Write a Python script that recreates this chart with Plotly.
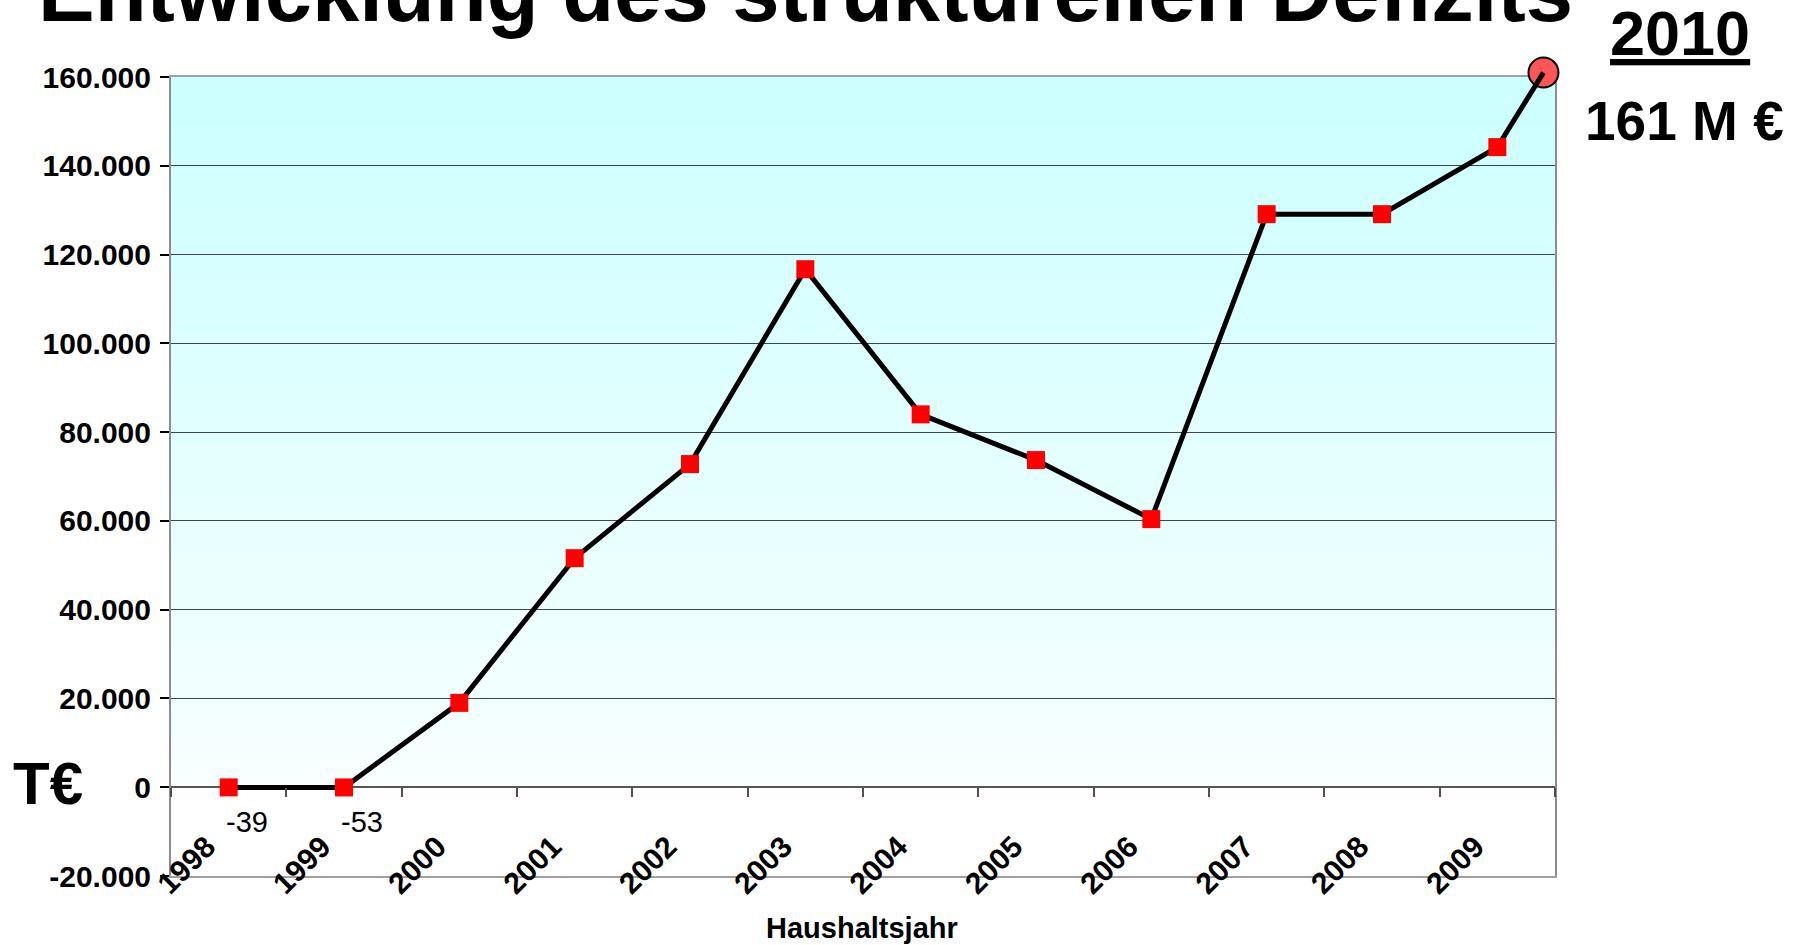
import base64
import struct
import zlib

import plotly.graph_objects as go

# ---------------- data ----------------
years = ["1998", "1999", "2000", "2001", "2002", "2003", "2004", "2005",
         "2006", "2007", "2008", "2009"]
deficit_teur = [-39, -53, 19000, 51600, 72800, 116700, 84000, 73700,
                60400, 129100, 129100, 144200]
labelled_years = ["1998", "1999"]          # points that carry a data label

final_year = "2010"
final_value_teur = 161000
final_label = "161 M €"
final_x_pos = 11.4                          # drawn just right of 2009

y_ticks = [-20000, 0, 20000, 40000, 60000, 80000, 100000, 120000, 140000, 160000]
y_tick_text = [f"{v:,}".replace(",", ".") for v in y_ticks]

title_text = "Entwicklung des strukturellen Defizits"
unit_text = "T€"
x_title = "Haushaltsjahr"

# ---------------- geometry ----------------
W, H = 1807, 945
L, R, B = 171, 1555, 876
PLOT_TOP = 77            # top edge of the framed plot area
PAPER_TOP = 40           # paper extends above the frame (room for 2010 circle)
PW, PH = R - L, B - PAPER_TOP
dom_top = (B - PLOT_TOP) / (B - PAPER_TOP)


def px2x(px):
    return (px - L) / PW


def py2y(py):
    return (B - py) / PH


x_idx = list(range(len(years)))
y_min, y_max = y_ticks[0], y_ticks[-1]
x_range = [-0.5, len(years) - 0.5]
# data axis spans the whole paper with the same scale as the framed axis
y_data_range = [y_min, y_min + (y_max - y_min) / dom_top]
FONT = "Liberation Sans"


def gradient_png(top, bottom, n=96):
    rows = b""
    for i in range(n):
        t = i / (n - 1)
        c = [round(top[k] + (bottom[k] - top[k]) * t) for k in range(3)]
        rows += b"\x00" + bytes(c) + bytes(c)

    def chunk(tag, data):
        return (struct.pack(">I", len(data)) + tag + data
                + struct.pack(">I", zlib.crc32(tag + data) & 0xFFFFFFFF))

    ihdr = struct.pack(">IIBBBBB", 2, n, 8, 2, 0, 0, 0)
    png = (b"\x89PNG\r\n\x1a\n" + chunk(b"IHDR", ihdr)
           + chunk(b"IDAT", zlib.compress(rows)) + chunk(b"IEND", b""))
    return "data:image/png;base64," + base64.b64encode(png).decode()


fig = go.Figure()

# 2010 circle (below the line)
fig.add_trace(go.Scatter(
    x=[final_x_pos], y=[final_value_teur], mode="markers",
    xaxis="x2", yaxis="y2",
    marker=dict(symbol="circle", size=30, color="#FF5555",
                line=dict(color="black", width=2)),
    cliponaxis=False, showlegend=False, hoverinfo="skip"))

# black line incl. 2010
fig.add_trace(go.Scatter(
    x=x_idx + [final_x_pos], y=deficit_teur + [final_value_teur], mode="lines",
    xaxis="x2", yaxis="y2",
    line=dict(color="black", width=5),
    cliponaxis=False, showlegend=False, hoverinfo="skip"))

# red square markers
fig.add_trace(go.Scatter(
    x=x_idx, y=deficit_teur, mode="markers",
    xaxis="x2", yaxis="y2",
    marker=dict(symbol="square", size=18, color="#FF0000"),
    cliponaxis=False, showlegend=False))

# dummy trace so the framed subplot (grid, labels, background) exists
fig.add_trace(go.Scatter(x=[None], y=[None], xaxis="x", yaxis="y",
                         showlegend=False, hoverinfo="skip"))

boundaries = [i - 0.5 for i in range(len(years) + 1)]

fig.update_layout(
    width=W, height=H,
    margin=dict(l=L, r=W - R, t=PAPER_TOP, b=H - B, autoexpand=False),
    paper_bgcolor="white", plot_bgcolor="rgba(0,0,0,0)",
    font=dict(family=FONT, color="black"),
    xaxis=dict(
        range=x_range, tickvals=x_idx, ticktext=years,
        tickangle=-45, ticks="", showgrid=False, zeroline=False,
        showline=True, linecolor="#A0A0A0", linewidth=2, mirror=True,
        tickfont=dict(family=FONT, size=30, weight="bold", color="black"),
        ticklabelstandoff=-61, ticklabelshift=-22,
    ),
    yaxis=dict(
        domain=[0, dom_top],
        range=[y_min, y_max], tickvals=y_ticks, ticktext=y_tick_text,
        ticks="outside", ticklen=9, tickwidth=1.5, tickcolor="black",
        showgrid=True, gridcolor="#3C4848", gridwidth=1,
        zeroline=True, zerolinecolor="#555555", zerolinewidth=2,
        showline=True, linecolor="#8C8C8C", linewidth=2, mirror=True,
        tickfont=dict(family=FONT, size=30, weight="bold", color="black"),
        ticklabelstandoff=3,
    ),
    # data axes: same scale; x2 draws the tick marks on the zero line
    xaxis2=dict(
        range=x_range, anchor="free",
        position=dom_top * (0 - y_min) / (y_max - y_min), side="bottom",
        tickvals=boundaries, ticks="outside", ticklen=9, tickwidth=2,
        tickcolor="#505050", showticklabels=False, showgrid=False,
        zeroline=False, showline=False,
    ),
    yaxis2=dict(domain=[0, 1], range=y_data_range, anchor="x2",
                visible=False, showgrid=False, zeroline=False),
    images=[dict(
        source=gradient_png((0xCC, 0xFF, 0xFF), (0xF8, 0xFF, 0xFF)),
        xref="x", yref="y", x=x_range[0], y=y_max, sizex=len(years),
        sizey=y_max, xanchor="left", yanchor="top", sizing="stretch",
        layer="below",
    )],
)

ann = []
# title (cut off at top like the slide)
ann.append(dict(text=title_text, xref="paper", yref="paper",
                x=px2x(36), y=py2y(-9), xanchor="left", yanchor="middle",
                showarrow=False,
                font=dict(family=FONT, size=85, weight="bold", color="black")))
# 2010 label
ann.append(dict(text=f"<u>{final_year}</u>", xref="paper", yref="paper",
                x=px2x(1680), y=py2y(33), xanchor="center", yanchor="middle",
                showarrow=False,
                font=dict(family=FONT, size=63, weight="bold", color="black")))
ann.append(dict(text=final_label, xref="paper", yref="paper",
                x=px2x(1684), y=py2y(121), xanchor="center", yanchor="middle",
                showarrow=False,
                font=dict(family=FONT, size=55, weight="bold", color="black")))
# unit
ann.append(dict(text=unit_text, xref="paper", yref="paper",
                x=px2x(48), y=py2y(783), xanchor="center", yanchor="middle",
                showarrow=False,
                font=dict(family=FONT, size=60, weight="bold", color="black")))
# x title
ann.append(dict(text=x_title, xref="paper", yref="paper",
                x=px2x(862), y=py2y(928), xanchor="center", yanchor="middle",
                showarrow=False,
                font=dict(family=FONT, size=29, weight="bold", color="black")))
# data labels
for yr in labelled_years:
    i = years.index(yr)
    ann.append(dict(text=str(deficit_teur[i]), x=i, y=deficit_teur[i],
                    xref="x", yref="y", xshift=18, yshift=-35,
                    showarrow=False,
                    font=dict(family=FONT, size=29, color="black")))
fig.update_layout(annotations=ann)

fig.write_html("out.html", config={"displayModeBar": False},
               post_script="document.body.style.margin='0';")
